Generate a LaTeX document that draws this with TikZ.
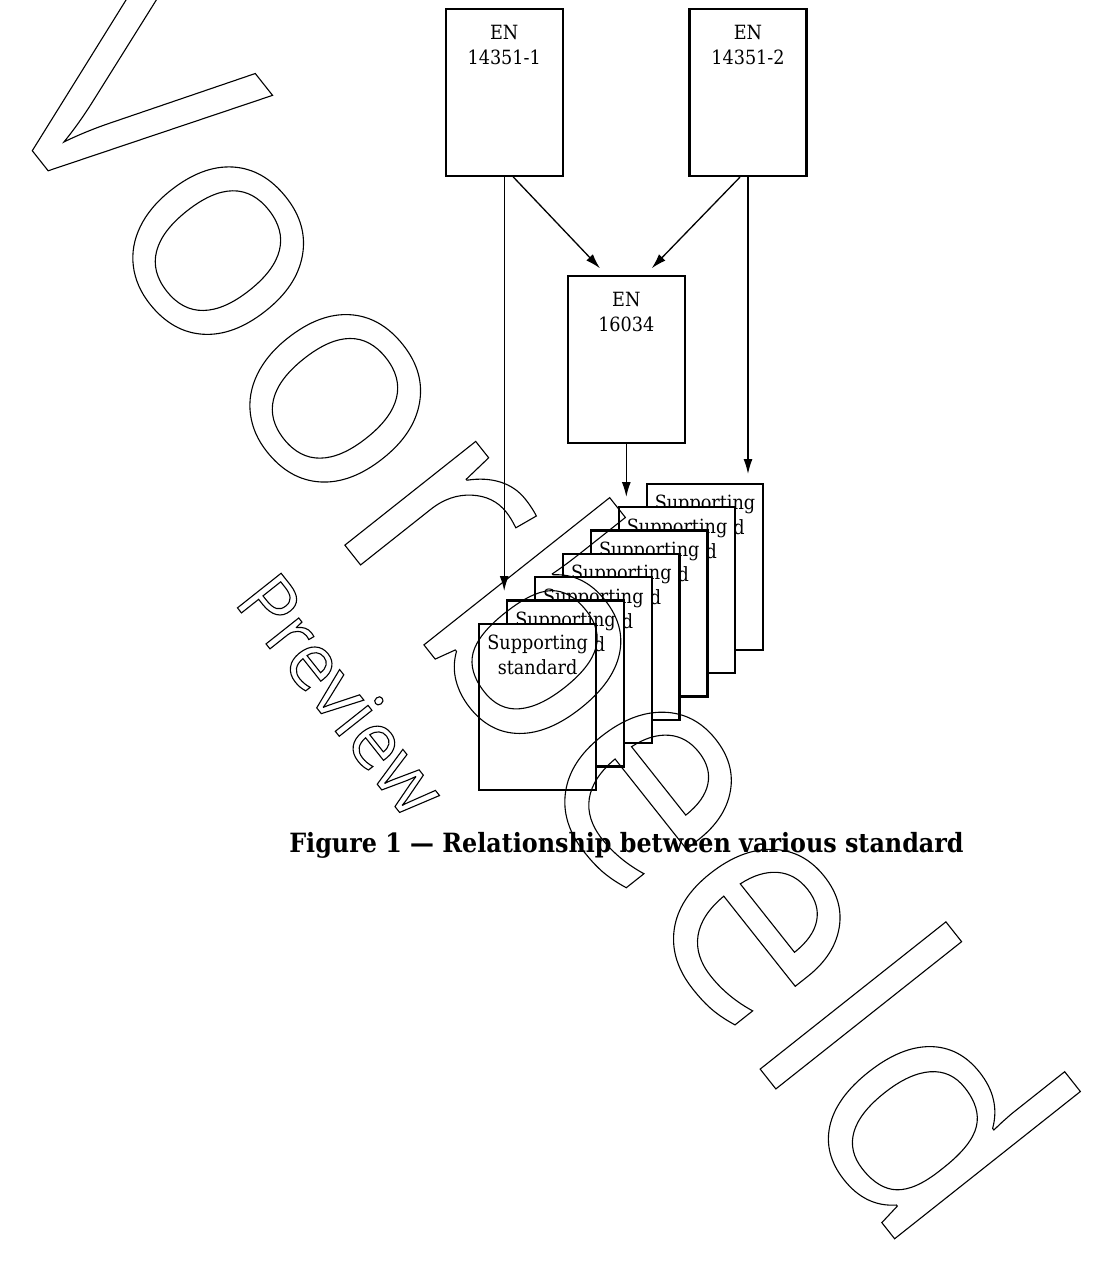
\documentclass[tikz,border=0pt]{standalone}
\usepackage{fontspec}
\IfFontExistsTF{DejaVu Serif Condensed}{%
  \setmainfont{DejaVu Serif Condensed}%
  \newcommand\boxfontsize{\fontsize{19.6}{25}\selectfont}%
  \newcommand\capfontsize{\fontsize{26.5}{32}\selectfont}%
}{%
  \setmainfont{Liberation Serif}%
  \newcommand\boxfontsize{\fontsize{22.5}{25}\selectfont}%
  \newcommand\capfontsize{\fontsize{31}{36}\selectfont}%
}
\newfontfamily\wmfont{Open Sans}
\usetikzlibrary{arrows.meta}
\newcommand\outlinedtext[1]{\special{pdf:literal direct 1 Tr 1.1 w}#1\special{pdf:literal direct 0 Tr}}
\begin{document}
\begin{tikzpicture}[x=1pt,y=-1pt,
  stdbox/.style={draw, line width=2.2pt, fill=white, inner sep=0pt, minimum width=117pt, minimum height=167pt},
  suppbox/.style={stdbox, minimum width=116.5pt, minimum height=166pt},
  boxtext/.style={inner sep=0pt, align=center, font=\boxfontsize, anchor=north},
  conn/.style={line width=1.3pt, -{Latex[length=15pt,width=9pt]}},
  wm/.style={inner sep=0pt, anchor=base, rotate=-51.6}]
\useasboundingbox (0,0) rectangle (1097,1284);
\fill[white] (0,0) rectangle (1097,1284);
% top boxes
\node[stdbox] (en1) at (504.2,92.3) {};
\node[boxtext] (en1t) at ([yshift=-17.6pt]en1.north) {EN\\14351-1};
\node[stdbox] (en2) at (748,92.5) {};
\node[boxtext] (en2t) at ([yshift=-17.6pt]en2.north) {EN\\14351-2};
\node[stdbox] (en3) at (626.3,359.2) {};
\node[boxtext] (en3t) at ([yshift=-17.6pt]en3.north) {EN\\16034};
% supporting standards, back to front
\foreach \k in {6,5,...,0} {
  \node[suppbox] (s\k) at ({537.6+27.9*\k},{706.8-23.33*\k}) {};
  \node[boxtext] (st\k) at ([yshift=-12.4pt]s\k.north) {Supporting\\standard};
}
% connector ends
\coordinate (a1e) at (504.2,591);
\coordinate (a2e) at (600,268.3);
\coordinate (a3e) at (651.7,268.3);
\coordinate (a4e) at (748,474);
\coordinate (a5e) at (626.3,497);
\draw[conn] (en1.south) -- (a1e);
\draw[conn] ([xshift=9pt]en1.south) -- (a2e);
\draw[conn] ([xshift=-8pt]en2.south) -- (a3e);
\draw[conn] (en2.south) -- (a4e);
\draw[conn] (en3.south) -- (a5e);
% caption
\node[font=\bfseries\capfontsize, anchor=base, inner sep=0pt] (cap) at (626.5,852) {Figure 1 — Relationship between various standard};
% watermark
\node[wm, font=\wmfont\fontsize{312}{312}\selectfont] (wm1) at (447,674) {\outlinedtext{Voorbeeld}};
\node[wm, font=\wmfont\fontsize{78}{78}\selectfont] (wm2) at (320,712) {\outlinedtext{Preview}};
\end{tikzpicture}
\end{document}
